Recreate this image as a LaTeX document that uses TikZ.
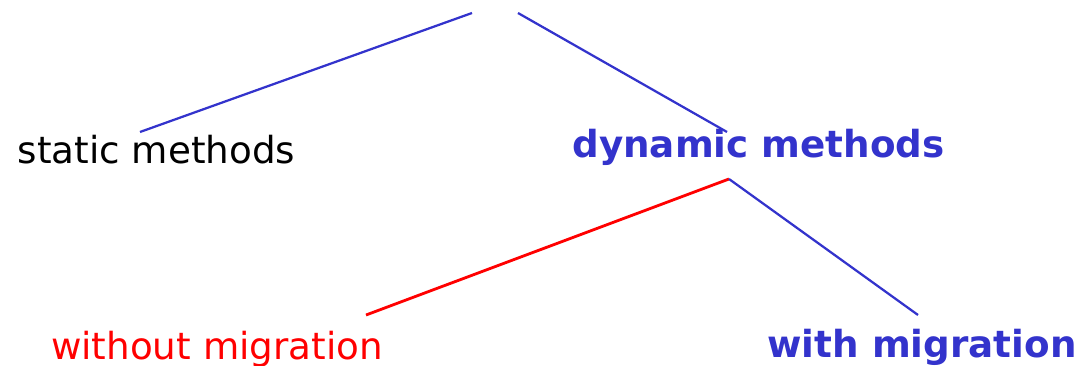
\documentclass[tikz,border=0pt]{standalone}
\usepackage{fontspec}
\setmainfont{DejaVu Sans}
\usepackage{xcolor}
\usetikzlibrary{positioning, calc}
\definecolor{methblue}{HTML}{3333CC}
\definecolor{methred}{HTML}{FF0000}

\begin{document}
\begin{tikzpicture}[
    x=0.025cm, y=-0.025cm,
    lbl/.style={inner sep=0pt, anchor=base, font=\fontsize{26.5}{30}\selectfont},
    hot/.style={lbl, font=\fontsize{26.5}{30}\selectfont\bfseries, text=methblue},
    branch/.style={line width=1.6pt, methblue},
]
    \useasboundingbox (0,0) rectangle (1084,366);

    \coordinate (rootL) at (472,13);
    \coordinate (rootR) at (518,13);

    \node[lbl] (static) at (156.5,163.3) {static methods};
    \node[hot] (dynamic) at (758.5,157.3) {dynamic methods};
    \node[lbl, text=methred] (nomig) at (217,359) {without migration};
    \node[hot] (mig) at (922,357) {with migration};

    % ends of the branches
    \coordinate (staticTop) at ($(static.base)+(-16.5,-31.3)$);
    \coordinate (dynTop) at ($(dynamic.base)+(-31.5,-25.3)$);
    \coordinate (dynBot) at ($(dynamic.base)+(-29.5,21.7)$);
    \coordinate (nomigTop) at ($(nomig.base)+(149,-44)$);
    \coordinate (migTop) at ($(mig.base)+(-4,-42)$);

    \draw[branch] (rootL) -- (staticTop);
    \draw[branch] (rootR) -- (dynTop);
    \draw[branch, methred, line width=2pt] (dynBot) -- (nomigTop);
    \draw[branch] (dynBot) -- (migTop);
\end{tikzpicture}
\end{document}
